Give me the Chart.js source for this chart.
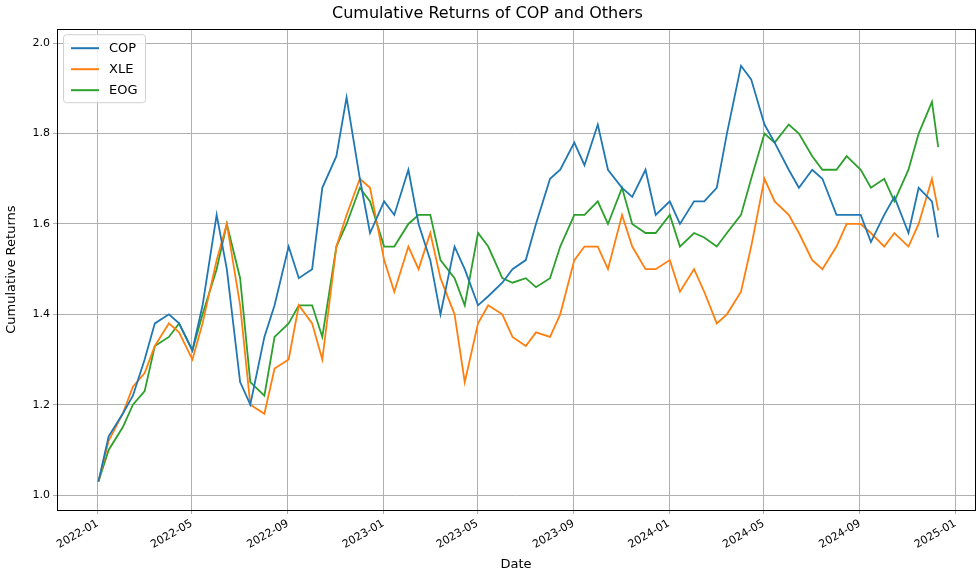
<!DOCTYPE html>
<html><head><meta charset="utf-8">
<script src="https://cdn.jsdelivr.net/npm/chart.js@4"></script>
<style>body{margin:0;background:#fff}</style></head>
<body><canvas id="c" width="979" height="576"></canvas>
<script>
const dates = [];
for (const y of [2022, 2023, 2024]) for (let m = 0; m < 12; m++) { dates.push([y, m, 2]); dates.push([y, m, 15]); }
dates.pop(); dates.pop(); dates.push([2024, 11, 2]); dates.push([2024, 11, 10]);
const cop = [1.03,1.13,1.18,1.22,1.30,1.38,1.40,1.38,1.32,1.42,1.62,1.50,1.25,1.20,1.35,1.42,1.55,1.48,1.50,1.68,1.75,1.88,1.70,1.58,
1.65,1.62,1.72,1.60,1.52,1.40,1.55,1.50,1.42,1.44,1.47,1.50,1.52,1.60,1.70,1.72,1.78,1.73,1.82,1.72,1.68,1.66,1.72,1.62,
1.65,1.60,1.65,1.65,1.68,1.80,1.95,1.92,1.82,1.78,1.72,1.68,1.72,1.70,1.62,1.62,1.62,1.56,1.62,1.66,1.58,1.68,1.65,1.57];
const xle = [1.03,1.12,1.18,1.24,1.27,1.33,1.38,1.36,1.30,1.38,1.52,1.60,1.42,1.20,1.18,1.28,1.30,1.42,1.38,1.30,1.55,1.62,1.70,1.68,
1.52,1.45,1.55,1.50,1.58,1.48,1.40,1.25,1.38,1.42,1.40,1.35,1.33,1.36,1.35,1.40,1.52,1.55,1.55,1.50,1.62,1.55,1.50,1.50,
1.52,1.45,1.50,1.45,1.38,1.40,1.45,1.55,1.70,1.65,1.62,1.58,1.52,1.50,1.55,1.60,1.60,1.58,1.55,1.58,1.55,1.60,1.70,1.63];
const eog = [1.03,1.10,1.15,1.20,1.23,1.33,1.35,1.38,1.32,1.40,1.50,1.60,1.48,1.25,1.22,1.35,1.38,1.42,1.42,1.35,1.55,1.60,1.68,1.65,
1.55,1.55,1.60,1.62,1.62,1.52,1.48,1.42,1.58,1.55,1.48,1.47,1.48,1.46,1.48,1.55,1.62,1.62,1.65,1.60,1.68,1.60,1.58,1.58,
1.62,1.55,1.58,1.57,1.55,1.58,1.62,1.70,1.80,1.78,1.82,1.80,1.75,1.72,1.72,1.75,1.72,1.68,1.70,1.65,1.72,1.80,1.87,1.77];
const tickLabels = ['2022-01','2022-05','2022-09','2023-01','2023-05','2023-09','2024-01','2024-05','2024-09','2025-01'];

const ts = d => Date.UTC(d[0], d[1], d[2]);
const tickVals = tickLabels.map(s => Date.UTC(+s.slice(0,4), +s.slice(5)-1, 1));
const pts = arr => arr.map((v, i) => ({x: ts(dates[i]), y: v}));
const ds = (label, arr, color) => ({label, data: pts(arr), borderColor: color, backgroundColor: color, borderWidth: 1.8, pointRadius: 0, tension: 0});

const legendPlugin = {
  id: 'inlegend',
  afterDraw(chart) {
    const c = chart.ctx, a = chart.chartArea;
    c.save();
    c.strokeStyle = '#000'; c.lineWidth = 1;
    c.strokeRect(Math.round(a.left) + 0.5, Math.round(a.top) + 0.5, Math.round(a.right - a.left), Math.round(a.bottom - a.top));
    const x0 = a.left + 6, y0 = a.top + 5;
    c.fillStyle = 'rgba(255,255,255,0.85)'; c.strokeStyle = '#d0d0d0'; c.lineWidth = 1;
    c.beginPath(); c.roundRect(x0 + 0.5, y0 + 0.5, 82, 68, 3); c.fill(); c.stroke();
    c.font = '13px "DejaVu Sans"'; c.textBaseline = 'middle';
    chart.data.datasets.forEach((d, i) => {
      const y = y0 + 14 + i * 21;
      c.strokeStyle = d.borderColor; c.lineWidth = 2;
      c.beginPath(); c.moveTo(x0 + 8, y); c.lineTo(x0 + 36, y); c.stroke();
      c.fillStyle = '#000'; c.fillText(d.label, x0 + 46, y);
    });
    c.restore();
  }
};

new Chart(document.getElementById('c'), {
  type: 'line',
  data: {datasets: [ds('COP', cop, '#1f77b4'), ds('XLE', xle, '#ff7f0e'), ds('EOG', eog, '#2ca02c')]},
  plugins: [legendPlugin],
  options: {
    responsive: false, animation: false, devicePixelRatio: 1,
    layout: {padding: {left: 0, right: 4, top: 0, bottom: 0}},
    plugins: {
      legend: {display: false}, tooltip: {enabled: false},
      title: {display: true, text: 'Cumulative Returns of COP and Others', color: '#000', font: {family: 'DejaVu Sans', size: 16, weight: 'normal'}, padding: {top: 4, bottom: 6}}
    },
    scales: {
      x: {
        type: 'linear', min: Date.UTC(2021, 10, 10), max: Date.UTC(2025, 0, 26),
        afterBuildTicks: s => { s.ticks = tickVals.map(v => ({value: v})); },
        afterFit: s => { s.height = 66; },
        ticks: {callback: (v) => tickLabels[tickVals.indexOf(v)] ?? '', maxRotation: 30, minRotation: 30, color: '#000', font: {family: 'DejaVu Sans', size: 11}, autoSkip: false},
        grid: {color: '#b0b0b0', drawTicks: true, tickLength: 4},
        border: {color: '#000'},
        title: {display: true, text: 'Date', color: '#000', font: {family: 'DejaVu Sans', size: 13}, padding: {top: 0}}
      },
      y: {
        min: 0.967, max: 2.031,
        afterBuildTicks: s => { s.ticks = [1.0,1.2,1.4,1.6,1.8,2.0].map(v => ({value: v})); },
        afterFit: s => { s.width = 57; },
        ticks: {callback: v => v.toFixed(1), color: '#000', font: {family: 'DejaVu Sans', size: 11}},
        grid: {color: '#b0b0b0', tickLength: 4},
        border: {color: '#000'},
        title: {display: true, text: 'Cumulative Returns', color: '#000', font: {family: 'DejaVu Sans', size: 13}, padding: {bottom: 2}}
      }
    }
  }
});
</script></body></html>
